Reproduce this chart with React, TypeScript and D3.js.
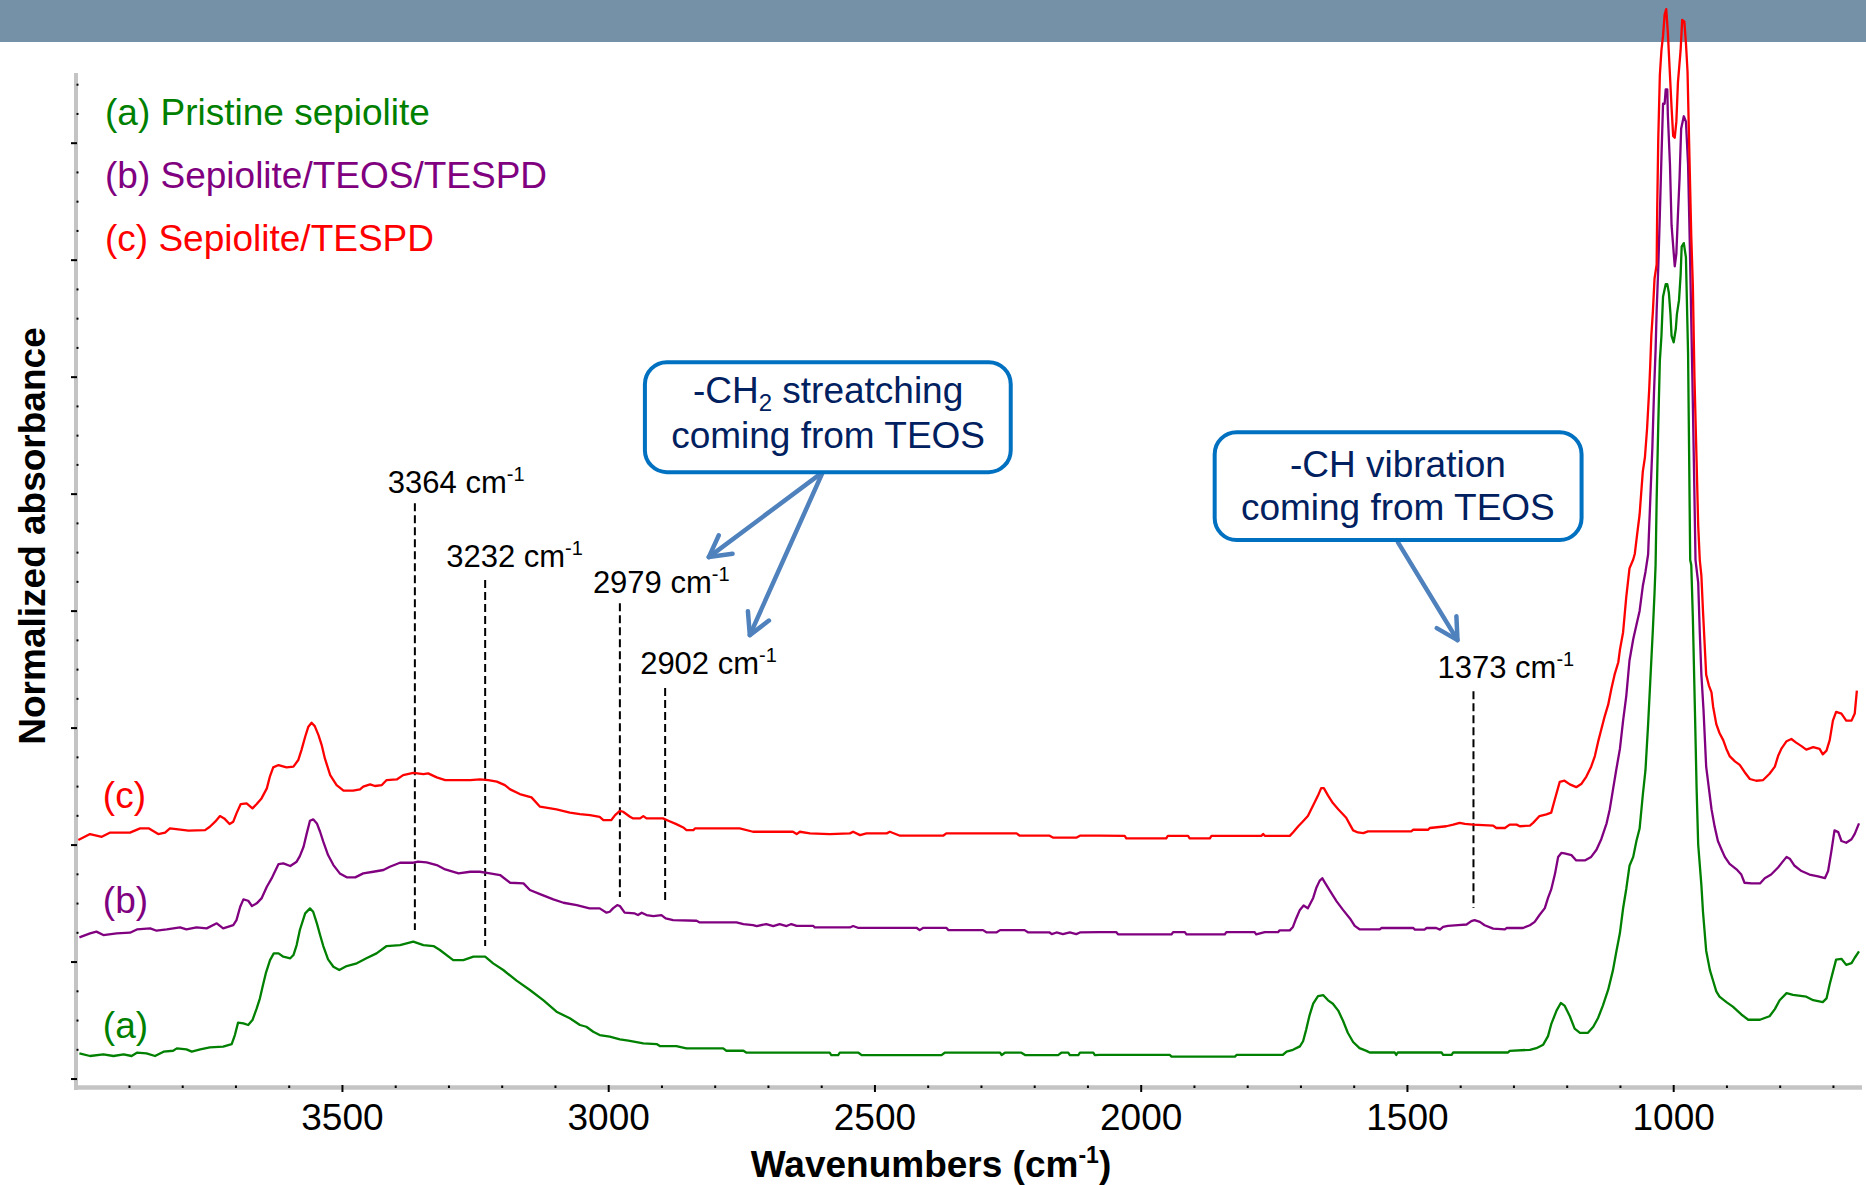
import React, { useEffect } from 'react';
import * as d3 from 'd3';

// ---------- data ----------
const xMajorTicks = [3500, 3000, 2500, 2000, 1500, 1000];
const seriesLegend = ['(a) Pristine sepiolite', '(b) Sepiolite/TEOS/TESPD', '(c) Sepiolite/TESPD'];
const seriesTags = ['(a)', '(b)', '(c)'];
const seriesColors = ['#008000', '#800080', '#ff0000'];

// [wavenumber cm-1, normalized absorbance (offset)]
const pristine: [number, number][] = [
  [3994,0.220],[3974,0.197],[3949,0.211],[3930,0.197],[3911,0.211],[3896,0.197],[3886,0.225],[3868,0.220],[3852,0.197],[3836,0.234],[3818,0.242],[3811,0.262],[3793,0.254],[3783,0.234],[3767,0.254],[3749,0.271],[3724,0.277],[3708,0.299],[3702,0.376],[3696,0.482],[3686,0.476],[3677,0.462],[3669,0.504],[3661,0.604],[3655,0.690],[3650,0.789],[3644,0.903],[3636,1.017],[3629,1.074],[3620,1.074],[3611,1.046],[3598,1.032],[3592,1.060],[3586,1.145],[3580,1.274],[3570,1.416],[3561,1.459],[3555,1.430],[3548,1.331],[3542,1.231],[3536,1.137],[3527,1.023],[3517,0.960],[3506,0.932],[3492,0.966],[3473,0.989],[3455,1.032],[3436,1.074],[3417,1.137],[3392,1.145],[3367,1.174],[3348,1.145],[3329,1.137],[3317,1.103],[3292,1.017],[3273,1.017],[3254,1.046],[3232,1.046],[3217,0.989],[3198,0.932],[3173,0.841],[3148,0.761],[3123,0.675],[3098,0.576],[3073,0.519],[3054,0.462],[3042,0.447],[3029,0.404],[3017,0.376],[2998,0.362],[2979,0.339],[2963,0.328],[2935,0.305],[2910,0.299],[2904,0.282],[2873,0.282],[2854,0.262],[2785,0.262],[2779,0.242],[2747,0.242],[2741,0.225],[2585,0.225],[2582,0.205],[2569,0.205],[2566,0.225],[2531,0.225],[2525,0.205],[2375,0.205],[2369,0.225],[2265,0.225],[2262,0.205],[2256,0.225],[2225,0.225],[2218,0.205],[2156,0.205],[2150,0.225],[2137,0.225],[2134,0.205],[2118,0.205],[2115,0.225],[2090,0.225],[2087,0.205],[2078,0.206],[1946,0.206],[1943,0.192],[1824,0.192],[1821,0.206],[1734,0.206],[1727,0.235],[1715,0.250],[1702,0.279],[1696,0.323],[1690,0.425],[1684,0.542],[1677,0.644],[1668,0.708],[1658,0.717],[1649,0.673],[1640,0.644],[1630,0.585],[1621,0.498],[1612,0.396],[1602,0.317],[1590,0.264],[1577,0.241],[1571,0.227],[1524,0.227],[1521,0.206],[1518,0.227],[1436,0.227],[1433,0.206],[1417,0.206],[1414,0.227],[1311,0.227],[1308,0.241],[1270,0.250],[1258,0.264],[1245,0.294],[1236,0.367],[1230,0.469],[1220,0.585],[1212,0.650],[1205,0.628],[1195,0.537],[1186,0.431],[1176,0.395],[1161,0.395],[1151,0.447],[1142,0.522],[1133,0.628],[1123,0.764],[1114,0.931],[1108,1.082],[1101,1.248],[1095,1.460],[1089,1.627],[1083,1.823],[1076,1.899],[1070,2.035],[1064,2.141],[1058,2.428],[1053,2.640],[1048,3.034],[1044,3.397],[1039,3.851],[1036,4.153],[1034,4.395],[1032,4.949],[1029,5.590],[1026,6.139],[1023,6.353],[1020,6.688],[1015,6.795],[1012,6.795],[1009,6.719],[1006,6.536],[1004,6.353],[1000,6.298],[996,6.414],[994,6.536],[990,6.658],[987,6.872],[985,7.116],[981,7.146],[977,7.024],[976,6.811],[973,6.200],[971,5.330],[969,4.436],[967,4.395],[964,3.941],[960,3.124],[957,2.489],[954,2.005],[948,1.657],[945,1.430],[939,1.097],[932,0.931],[926,0.840],[920,0.749],[914,0.704],[901,0.658],[889,0.619],[873,0.552],[860,0.507],[838,0.507],[820,0.537],[810,0.598],[801,0.674],[788,0.734],[776,0.719],[751,0.704],[738,0.674],[720,0.658],[713,0.689],[707,0.810],[701,0.916],[695,1.021],[685,1.028],[676,0.976],[666,0.991],[660,1.037],[652,1.091]
];

const teosTespd: [number, number][] = [
  [3994,1.211],[3974,1.245],[3962,1.260],[3949,1.231],[3924,1.245],[3899,1.251],[3886,1.279],[3861,1.288],[3849,1.268],[3830,1.279],[3805,1.297],[3793,1.279],[3774,1.297],[3755,1.288],[3736,1.331],[3724,1.288],[3705,1.316],[3699,1.359],[3692,1.473],[3686,1.536],[3677,1.524],[3670,1.479],[3661,1.502],[3652,1.544],[3642,1.644],[3633,1.715],[3627,1.772],[3620,1.838],[3611,1.843],[3598,1.821],[3586,1.858],[3580,1.906],[3573,1.986],[3567,2.100],[3561,2.208],[3555,2.220],[3548,2.185],[3542,2.114],[3536,2.029],[3527,1.915],[3517,1.829],[3505,1.758],[3492,1.724],[3476,1.724],[3461,1.758],[3442,1.772],[3423,1.787],[3411,1.815],[3392,1.849],[3367,1.849],[3358,1.858],[3342,1.852],[3323,1.829],[3307,1.792],[3282,1.758],[3260,1.772],[3242,1.772],[3223,1.758],[3204,1.744],[3185,1.678],[3160,1.673],[3148,1.616],[3129,1.581],[3104,1.536],[3085,1.507],[3060,1.487],[3036,1.459],
  [3017,1.459],[3004,1.422],[2998,1.430],[2992,1.459],[2984,1.487],[2979,1.479],[2970,1.422],[2951,1.416],[2945,1.402],[2938,1.422],[2929,1.402],[2916,1.393],[2901,1.402],[2893,1.373],[2879,1.359],[2835,1.353],[2829,1.339],[2760,1.339],[2747,1.325],[2729,1.316],[2722,1.308],[2704,1.325],[2691,1.308],[2679,1.325],[2666,1.308],[2657,1.325],[2647,1.310],[2616,1.310],[2613,1.296],[2547,1.296],[2541,1.308],[2532,1.293],[2422,1.293],[2416,1.273],[2409,1.293],[2366,1.293],[2362,1.273],[2297,1.273],[2290,1.253],[2272,1.253],[2265,1.273],[2219,1.273],[2212,1.253],[2172,1.253],[2168,1.239],[2159,1.253],[2147,1.239],[2134,1.253],[2122,1.239],[2115,1.253],[2078,1.256],
  [2047,1.256],[2043,1.236],[1943,1.236],[1940,1.256],[1918,1.256],[1915,1.236],[1843,1.236],[1840,1.256],[1787,1.256],[1784,1.236],[1768,1.256],[1743,1.256],[1740,1.271],[1721,1.271],[1715,1.300],[1709,1.373],[1702,1.446],[1695,1.484],[1687,1.460],[1677,1.548],[1671,1.636],[1665,1.694],[1660,1.717],[1655,1.679],[1646,1.612],[1633,1.519],[1621,1.446],[1608,1.373],[1599,1.309],[1590,1.280],[1552,1.280],[1549,1.291],[1489,1.291],[1486,1.277],[1468,1.277],[1464,1.291],[1446,1.291],[1439,1.277],[1433,1.300],[1424,1.309],[1405,1.315],[1389,1.321],[1380,1.350],[1374,1.359],[1364,1.344],[1355,1.315],[1339,1.286],[1317,1.280],[1314,1.291],[1283,1.291],[1270,1.315],[1261,1.344],[1252,1.402],[1242,1.461],[1236,1.548],[1230,1.621],[1223,1.752],[1217,1.898],[1211,1.933],
  [1205,1.929],[1192,1.914],[1183,1.869],[1167,1.869],[1155,1.899],[1145,1.960],[1136,2.050],[1126,2.186],[1120,2.307],[1114,2.474],[1108,2.640],[1101,2.822],[1095,3.064],[1089,3.276],[1083,3.578],[1076,3.760],[1070,3.881],[1064,4.002],[1058,4.214],[1053,4.335],[1048,4.486],
  [1044,4.949],[1040,5.406],[1037,5.864],[1034,6.231],[1032,6.566],[1029,6.933],[1026,7.390],[1023,7.879],[1020,8.337],[1017,8.337],[1015,8.459],[1012,8.459],[1011,8.245],[1007,7.818],[1004,7.299],[998,6.948],[995,7.055],[992,7.390],[989,7.696],[986,8.123],[981,8.230],[977,8.184],[973,7.818],[970,7.192],[965,6.017],[962,5.254],[959,4.436],
  [954,4.244],[951,3.820],[948,3.457],[944,3.155],[939,2.671],[934,2.489],[929,2.307],[923,2.156],[917,2.035],[910,1.960],[904,1.899],[895,1.839],[882,1.793],[873,1.748],[867,1.678],[854,1.672],[838,1.672],[829,1.717],[817,1.748],[804,1.808],[796,1.854],[788,1.899],[782,1.884],[773,1.823],[760,1.778],[745,1.748],[729,1.733],[716,1.717],[710,1.778],[704,1.944],[698,2.126],[691,2.111],[685,2.035],[676,2.020],[666,2.050],[660,2.096],[652,2.186]
];

const tespd: [number, number][] = [
  [3996,2.043],[3974,2.094],[3952,2.071],[3937,2.106],[3899,2.106],[3880,2.143],[3864,2.143],[3846,2.094],[3833,2.106],[3824,2.143],[3789,2.123],[3758,2.128],[3749,2.157],[3739,2.200],[3730,2.248],[3722,2.228],[3712,2.180],[3705,2.200],[3699,2.271],[3691,2.351],[3680,2.356],[3669,2.314],[3661,2.351],[3652,2.399],[3642,2.485],[3636,2.590],[3630,2.664],[3620,2.684],[3605,2.664],[3592,2.670],[3583,2.727],[3577,2.812],[3570,2.926],[3564,3.012],[3558,3.046],[3552,3.017],[3545,2.940],[3539,2.855],[3533,2.741],[3523,2.598],[3511,2.513],[3498,2.465],[3480,2.465],[3467,2.476],[3461,2.499],[3448,2.519],[3439,2.505],[3426,2.513],[3417,2.556],[3398,2.561],[3386,2.598],[3367,2.618],[3348,2.607],[3339,2.613],[3323,2.579],[3307,2.556],[3286,2.556],[3260,2.556],[3242,2.561],[3226,2.556],[3210,2.542],[3195,2.513],[3185,2.476],[3167,2.436],[3145,2.408],[3129,2.328],[3098,2.305],[3073,2.277],[3054,2.265],
  [3035,2.256],[3017,2.242],[3010,2.214],[2995,2.214],[2988,2.256],[2979,2.293],[2973,2.285],[2960,2.242],[2954,2.228],[2941,2.228],[2935,2.248],[2929,2.228],[2898,2.228],[2888,2.208],[2873,2.179],[2860,2.151],[2854,2.128],[2841,2.128],[2838,2.142],[2754,2.142],[2729,2.114],[2654,2.114],[2647,2.094],[2641,2.114],[2622,2.100],[2585,2.094],[2547,2.100],[2541,2.114],[2528,2.085],[2516,2.100],[2478,2.100],[2472,2.114],[2453,2.080],[2372,2.080],[2366,2.100],[2234,2.100],[2228,2.080],[2172,2.080],[2165,2.063],[2122,2.063],[2115,2.080],[2078,2.080],
  [2031,2.079],[2028,2.058],[1953,2.058],[1950,2.079],[1912,2.079],[1909,2.058],[1871,2.058],[1868,2.079],[1774,2.079],[1771,2.096],[1768,2.079],[1721,2.079],[1715,2.108],[1705,2.161],[1696,2.204],[1687,2.248],[1677,2.341],[1668,2.423],[1662,2.487],[1657,2.487],[1649,2.423],[1640,2.359],[1630,2.307],[1615,2.234],[1608,2.175],[1602,2.126],[1593,2.108],[1583,2.102],[1574,2.117],[1493,2.117],[1489,2.131],[1461,2.131],[1458,2.146],[1427,2.161],[1414,2.175],[1402,2.190],[1392,2.181],[1377,2.175],[1339,2.167],[1333,2.146],[1317,2.146],[1308,2.175],[1295,2.175],[1289,2.161],[1270,2.167],[1264,2.190],[1252,2.248],[1239,2.263],[1230,2.277],[1223,2.394],[1214,2.540],[1205,2.550],[1195,2.519],[1183,2.495],[1173,2.525],[1164,2.586],[1155,2.670],[1148,2.761],[1142,2.882],[1136,2.988],[1130,3.094],[1123,3.200],[1117,3.336],[1111,3.457],[1104,3.563],[1101,3.669],[1095,3.820],[1092,3.972],[1089,4.123],[1086,4.244],[1083,4.365],[1076,4.441],[1073,4.491],
  [1069,4.643],[1064,4.826],[1061,5.010],[1058,5.193],[1054,5.315],[1050,5.559],[1046,5.895],[1044,6.108],[1042,6.353],[1039,6.566],[1036,6.841],[1032,6.963],[1031,7.421],[1029,8.032],[1026,8.581],[1023,8.795],[1020,8.917],[1017,9.100],[1014,9.146],[1011,8.947],[1007,8.581],[1004,8.306],[1001,8.062],[998,8.047],[995,8.184],[992,8.520],[987,8.795],[984,9.054],[980,9.039],[977,8.856],[974,8.611],[971,8.001],[967,7.207],[964,6.780],[961,6.002],[957,5.284],[954,4.735],[951,4.436],
  [948,4.304],[945,4.002],[942,3.730],[939,3.457],[934,3.366],[929,3.306],[926,3.185],[920,3.034],[914,2.958],[907,2.897],[901,2.822],[895,2.761],[885,2.716],[876,2.686],[867,2.625],[857,2.565],[845,2.550],[832,2.556],[820,2.610],[810,2.671],[804,2.761],[798,2.822],[788,2.888],[779,2.907],[770,2.876],[760,2.846],[751,2.816],[738,2.837],[726,2.822],[720,2.776],[713,2.807],[707,2.897],[701,3.064],[695,3.139],[685,3.124],[676,3.064],[666,3.064],[660,3.124],[656,3.321]
];

// marked bands
const bandLabels = ['3364', '3232', '2979', '2902', '1373'];
const bandPositions = [3364, 3232, 2979, 2894, 1376];
const bandTop = [4.923, 4.265, 4.068, 3.342, 3.316];
const bandBottom = [1.274, 1.137, 1.556, 1.504, 1.462];

// ---------- layout ----------
const W = 1866;
const H = 1185;
const FONT = '"Liberation Sans", Arial, Helvetica, sans-serif';
const bandLabelDx = [-27, -39, -27, -25, -36];
const bandLabelDy = [-10, -13, -10, -14, -13];

const xScale = d3.scaleLinear().domain([4000, 652]).range([76.2, 1859]);
const yScale = d3.scaleLinear().domain([-0.068, 8.6]).range([1087, 73]);

function chevron(x1: number, y1: number, x2: number, y2: number, len = 24, ang = 0.5) {
  const a = Math.atan2(y2 - y1, x2 - x1);
  const p1 = [x2 - len * Math.cos(a - ang), y2 - len * Math.sin(a - ang)];
  const p2 = [x2 - len * Math.cos(a + ang), y2 - len * Math.sin(a + ang)];
  return `M${p1[0]},${p1[1]}L${x2},${y2}L${p2[0]},${p2[1]}`;
}

export default function App() {
  useEffect(() => {
    document.body.style.margin = '0';
    document.body.style.overflow = 'hidden';
  }, []);

  const line = d3
    .line<[number, number]>()
    .x((d) => xScale(d[0]))
    .y((d) => yScale(d[1]));

  const series = [pristine, teosTespd, tespd];

  const yMajor = d3.range(0, 9, 1);
  const yMinor = d3.range(0, 8.6, 0.25).filter((v) => Math.abs(v - Math.round(v)) > 0.01);
  const xMinor = d3.range(3900, 650, -100).filter((v) => v % 500 !== 0);

  const axisGray = '#c4c4c4';
  const arrowColor = '#4f81bd';
  const boxStroke = '#0070c0';
  const boxText = '#002060';

  // callout boxes in data coordinates
  const box1 = { w0: 2932, w1: 2245, v0: 6.128, v1: 5.188, wc: 2588, l1: 5.778, l2: 5.393 };
  const box2 = { w0: 1862, w1: 1173, v0: 5.53, v1: 4.607, wc: 1518, l1: 5.145, l2: 4.778 };
  const arrows: [number, number, number, number][] = [
    [2598, 5.188, 2812, 4.462],
    [2598, 5.188, 2735, 3.795],
    [1518, 4.59, 1406, 3.752],
  ];
  const tagPos: [number, number][] = [
    [3950, 0.35],
    [3950, 1.419],
    [3950, 2.316],
  ];

  return (
    <svg
      width={W}
      height={H}
      viewBox={`0 0 ${W} ${H}`}
      style={{ position: 'absolute', left: 0, top: 0, display: 'block', background: '#ffffff' }}
      fontFamily={FONT}
    >
      <rect x={0} y={0} width={W} height={H} fill="#ffffff" />
      <rect x={0} y={0} width={W} height={42} fill="#7491a8" />

      {/* axes */}
      <line x1={76} y1={yScale(8.6)} x2={76} y2={1090} stroke={axisGray} strokeWidth={4} />
      <line x1={74} y1={1087.5} x2={1862} y2={1087.5} stroke={axisGray} strokeWidth={4.5} />
      {yMajor.map((v) => (
        <line key={'ym' + v} x1={71} x2={77} y1={yScale(v)} y2={yScale(v)} stroke="#000" strokeWidth={2} />
      ))}
      {yMinor.map((v) => (
        <rect key={'yn' + v} x={76.5} y={yScale(v) - 1} width={2} height={2} fill="#000" />
      ))}
      {xMajorTicks.map((t) => (
        <line key={'xm' + t} x1={xScale(t)} x2={xScale(t)} y1={1085} y2={1092} stroke="#000" strokeWidth={2} />
      ))}
      {xMinor.map((t) => (
        <rect key={'xn' + t} x={xScale(t) - 1} y={1085.5} width={2} height={2.5} fill="#000" />
      ))}
      {xMajorTicks.map((t) => (
        <text key={'xl' + t} x={xScale(t)} y={1130} textAnchor="middle" fontSize={37} fill="#000">
          {t}
        </text>
      ))}

      {/* axis titles */}
      <text x={931} y={1177} textAnchor="middle" fontSize={37} fontWeight="bold" fill="#000">
        Wavenumbers (cm<tspan dy={-14} fontSize={23}>-1</tspan>
        <tspan dy={14}>)</tspan>
      </text>
      <text
        transform="translate(45,536) rotate(-90)"
        textAnchor="middle"
        fontSize={37}
        fontWeight="bold"
        fill="#000"
      >
        Normalized absorbance
      </text>

      {/* band markers */}
      {bandPositions.map((p, i) => (
        <g key={'band' + i}>
          <line
            x1={xScale(p)}
            x2={xScale(p)}
            y1={yScale(bandTop[i])}
            y2={yScale(bandBottom[i])}
            stroke="#000"
            strokeWidth={2}
            strokeDasharray="8,4"
          />
          <text x={xScale(p) + bandLabelDx[i]} y={yScale(bandTop[i]) + bandLabelDy[i]} fontSize={31} fill="#000">
            {bandLabels[i]} cm<tspan dy={-12} fontSize={20}>-1</tspan>
          </text>
        </g>
      ))}

      {/* spectra */}
      {series.map((s, i) => (
        <path
          key={'s' + i}
          d={line(s) || ''}
          fill="none"
          stroke={seriesColors[i]}
          strokeWidth={2.3}
          strokeLinejoin="round"
        />
      ))}

      {/* curve tags */}
      {seriesTags.map((t, i) => (
        <text key={'tag' + i} x={xScale(tagPos[i][0])} y={yScale(tagPos[i][1])} fontSize={37} fill={seriesColors[i]}>
          {t}
        </text>
      ))}

      {/* legend */}
      {seriesLegend.map((t, i) => (
        <text key={'leg' + i} x={105} y={125 + i * 63} fontSize={37} fill={seriesColors[i]}>
          {t}
        </text>
      ))}

      {/* arrows */}
      {arrows.map((a, i) => {
        const x1 = xScale(a[0]);
        const y1 = yScale(a[1]);
        const x2 = xScale(a[2]);
        const y2 = yScale(a[3]);
        return (
          <g key={'arr' + i} stroke={arrowColor} strokeWidth={4.5} fill="none" strokeLinecap="round" strokeLinejoin="round">
            <line x1={x1} y1={y1} x2={x2} y2={y2} />
            <path d={chevron(x1, y1, x2, y2)} />
          </g>
        );
      })}

      {/* callout boxes */}
      {[box1, box2].map((b, i) => (
        <rect
          key={'box' + i}
          x={xScale(b.w0)}
          y={yScale(b.v0)}
          width={xScale(b.w1) - xScale(b.w0)}
          height={yScale(b.v1) - yScale(b.v0)}
          rx={22}
          ry={22}
          fill="#ffffff"
          stroke={boxStroke}
          strokeWidth={4}
        />
      ))}
      <text x={xScale(box1.wc)} y={yScale(box1.l1)} textAnchor="middle" fontSize={37} fill={boxText}>
        -CH<tspan dy={8} fontSize={24}>2</tspan>
        <tspan dy={-8}> streatching</tspan>
      </text>
      <text x={xScale(box1.wc)} y={yScale(box1.l2)} textAnchor="middle" fontSize={37} fill={boxText}>
        coming from TEOS
      </text>
      <text x={xScale(box2.wc)} y={yScale(box2.l1)} textAnchor="middle" fontSize={37} fill={boxText}>
        -CH vibration
      </text>
      <text x={xScale(box2.wc)} y={yScale(box2.l2)} textAnchor="middle" fontSize={37} fill={boxText}>
        coming from TEOS
      </text>
    </svg>
  );
}
